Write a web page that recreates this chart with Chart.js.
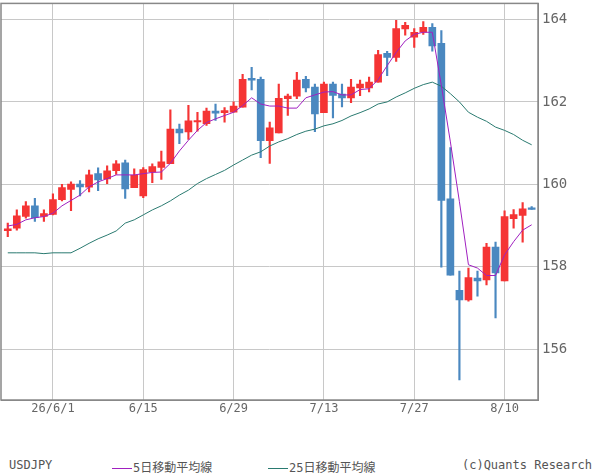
<!DOCTYPE html>
<html><head><meta charset="utf-8">
<script src="https://cdn.jsdelivr.net/npm/chart.js@4"></script>
<style>
body{margin:0;background:#fff;width:600px;height:475px;overflow:hidden;font-family:"DejaVu Sans Mono","Noto Sans CJK JP",monospace;color:#555;}
#wrap{position:absolute;left:0;top:-9px;width:600px;height:429px;}
.ft{position:absolute;top:458px;font-size:12px;white-space:nowrap;}
.ln{display:inline-block;width:20px;height:0;border-top:1px solid;vertical-align:middle;margin-right:1px;}
</style></head><body>
<div id="wrap"><canvas id="c"></canvas></div>
<div class="ft" style="left:9px">USDJPY</div>
<div class="ft" style="left:112px"><span class="ln" style="border-color:#a020c0"></span>5日移動平均線</div>
<div class="ft" style="left:268px"><span class="ln" style="border-color:#2a7a70"></span>25日移動平均線</div>
<div class="ft" style="right:8px">(c)Quants Research</div>
<script>
const dates=["5/25","5/26","5/27","5/28","5/29","26/6/1","6/2","6/3","6/4","6/5","6/8","6/9","6/10","6/11","6/12","6/15","6/16","6/17","6/18","6/19","6/22","6/23","6/24","6/25","6/26","6/29","6/30","7/1","7/2","7/3","7/6","7/7","7/8","7/9","7/10","7/13","7/14","7/15","7/16","7/17","7/20","7/21","7/22","7/23","7/24","7/27","7/28","7/29","7/30","7/31","8/3","8/4","8/5","8/6","8/7","8/10","8/11","8/12","8/13"];
const tickIdx=[5,15,25,35,45,55];
const opens=[158.88,158.94,159.22,159.48,159.22,159.27,159.63,159.88,160.01,159.93,160.26,160.13,160.33,160.52,159.92,159.72,160.30,160.41,160.50,161.34,161.27,161.52,161.47,161.78,161.74,161.75,161.87,162.57,162.55,161.06,161.25,162.08,162.14,162.55,162.36,161.74,162.43,162.19,162.10,162.34,162.34,162.48,163.18,163.08,163.77,163.57,163.69,163.81,163.42,159.65,157.43,157.20,157.73,157.68,158.48,157.66,159.17,159.25,159.43];
const highs=[159.06,159.38,159.58,159.66,159.38,159.77,160.00,160.06,160.09,160.35,160.40,160.45,160.58,160.59,160.38,160.41,160.50,160.81,161.81,161.46,161.92,161.75,161.85,161.95,161.86,162.00,162.67,162.84,162.60,161.51,162.43,162.19,162.72,162.62,162.43,162.48,162.48,162.43,162.55,162.53,162.60,163.25,163.23,163.98,163.93,163.78,163.95,163.90,163.73,160.89,157.90,157.97,157.90,158.57,158.60,159.36,159.39,159.56,159.46];
const lows=[158.73,158.89,159.18,159.10,159.10,159.26,159.60,159.36,159.72,159.82,159.85,160.02,160.24,159.66,159.92,159.68,160.04,160.12,160.50,160.99,161.09,161.29,161.43,161.55,161.51,161.75,161.87,162.29,160.65,160.51,161.25,161.67,162.08,162.24,161.28,161.74,161.61,161.88,161.98,162.15,162.24,162.48,162.64,162.98,163.62,163.32,163.64,163.23,157.99,157.80,155.26,157.17,157.29,157.56,156.76,157.66,158.94,158.60,159.39];
const closes=[158.92,159.24,159.48,159.19,159.29,159.63,159.92,160.01,159.94,160.23,160.11,160.33,160.50,159.89,160.22,160.36,160.43,160.55,161.34,161.25,161.54,161.54,161.78,161.73,161.79,161.90,162.55,162.53,161.06,161.37,162.09,162.14,162.53,162.34,161.71,162.43,162.16,162.10,162.36,162.43,162.48,163.15,163.08,163.78,163.86,163.69,163.81,163.36,159.61,157.80,157.20,157.74,157.66,158.48,157.85,159.22,159.27,159.41,159.39];
const ma5=[158.99,159.03,159.14,159.19,159.22,159.30,159.48,159.61,159.74,159.94,160.06,160.14,160.23,160.23,160.23,160.26,160.29,160.30,160.51,160.81,161.07,161.31,161.50,161.59,161.67,161.75,161.91,162.10,161.95,161.90,161.90,161.85,161.85,162.10,162.17,162.24,162.25,162.17,162.17,162.30,162.32,162.54,162.88,163.20,163.48,163.64,163.69,163.69,162.40,161.03,159.58,158.05,157.97,157.79,157.79,158.29,158.61,158.89,159.02];
const ma25=[158.34,158.34,158.34,158.34,158.32,158.34,158.34,158.34,158.45,158.57,158.68,158.77,158.87,159.06,159.14,159.26,159.38,159.48,159.60,159.74,159.86,160.02,160.14,160.24,160.34,160.47,160.59,160.71,160.79,160.93,161.03,161.11,161.21,161.29,161.34,161.42,161.47,161.55,161.66,161.74,161.83,161.95,162.00,162.12,162.22,162.33,162.42,162.48,162.38,162.20,162.00,161.75,161.63,161.53,161.39,161.31,161.21,161.07,160.96];
const yTicks=[156,158,160,162,164];

const RED='#f53434',BLUE='#4a88c0';
const col=opens.map((o,i)=>closes[i]>=o?RED:BLUE);
const wick=opens.map((o,i)=>({x:i,y:[lows[i],highs[i]]}));
const body=opens.map((o,i)=>{let a=Math.min(o,closes[i]),b=Math.max(o,closes[i]);if(b-a<0.03){const m=(a+b)/2;a=m-0.015;b=m+0.015;}return {x:i,y:[a,b]};});
const line=(arr)=>arr.map((v,i)=>({x:i,y:v}));
const frame={id:'frame',afterDraw(ch){const a=ch.chartArea,c=ch.ctx;c.save();c.strokeStyle='#888';c.lineWidth=1.5;c.strokeRect(a.left,a.top,a.right-a.left,a.bottom-a.top);c.restore();}};
new Chart(document.getElementById('c'),{
 data:{datasets:[
  {type:'line',data:line(ma25),borderColor:'#2a7a70',borderWidth:1,pointRadius:0,order:1},
  {type:'line',data:line(ma5),borderColor:'#a020c0',borderWidth:1,pointRadius:0,order:0},
  {type:'bar',data:wick,backgroundColor:col,barThickness:1.5,grouped:false,order:3},
  {type:'bar',data:body,backgroundColor:col,barThickness:7,grouped:false,order:2}
 ]},
 plugins:[frame],
 options:{responsive:true,maintainAspectRatio:false,animation:false,
  layout:{padding:{top:0,left:1,right:0,bottom:0}},
  plugins:{legend:{display:false},tooltip:{enabled:false}},
  scales:{
   x:{type:'linear',offset:false,bounds:'ticks',min:-0.75,max:58.7,afterFit:s=>{s.height=20;},
      afterBuildTicks:s=>{s.ticks=tickIdx.map(v=>({value:v}));},
      afterDataLimits:s=>{s.min=-0.75;s.max=58.7;},
      ticks:{autoSkip:false,maxRotation:0,color:'#666',font:{size:12,family:'DejaVu Sans Mono'},padding:2,callback:v=>dates[v]},
      grid:{color:'#c8c8c8',drawTicks:false,offset:false},border:{color:'#888'}},
   y:{position:'right',min:154.77,max:164.39,afterFit:s=>{s.width=62;},
      afterBuildTicks:s=>{s.ticks=yTicks.map(v=>({value:v}));},
      ticks:{color:'#666',font:{size:14,family:'DejaVu Sans Mono'},padding:4},
      grid:{color:'#c8c8c8',drawTicks:false},border:{color:'#888'}}
  }}
});
</script></body></html>
